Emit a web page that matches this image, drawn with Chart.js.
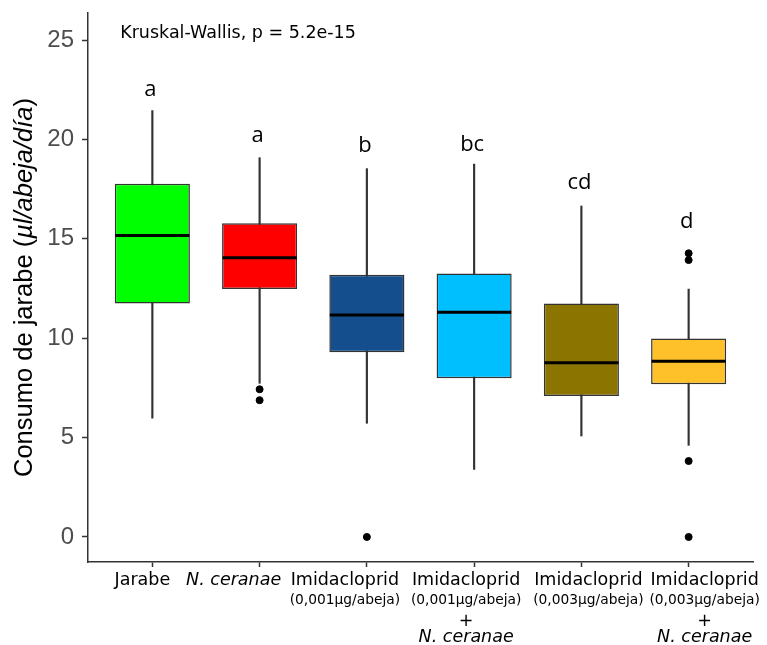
<!DOCTYPE html>
<html><head><meta charset="utf-8">
<script src="https://cdn.jsdelivr.net/npm/chart.js@4"></script>
<style>html,body{margin:0;padding:0;background:#fff}#wrap{width:767px;height:645px;position:relative}</style>
</head><body><div id="wrap"><canvas id="c"></canvas></div>
<script>
// ---- data ----
const categories = ['Jarabe', 'N. ceranae', 'Imidacloprid (0,001µg/abeja)', 'Imidacloprid (0,001µg/abeja) + N. ceranae', 'Imidacloprid (0,003µg/abeja)', 'Imidacloprid (0,003µg/abeja) + N. ceranae'];
const xLabelLines = [
  ['Jarabe'],
  ['N. ceranae'],
  ['Imidacloprid', '(0,001µg/abeja)'],
  ['Imidacloprid', '(0,001µg/abeja)', '+', 'N. ceranae'],
  ['Imidacloprid', '(0,003µg/abeja)'],
  ['Imidacloprid', '(0,003µg/abeja)', '+', 'N. ceranae']
];
const whiskerLow  = [5.97, 7.73, 5.72, 3.40, 5.08, 4.61];
const q1          = [11.75, 12.47, 9.29, 7.98, 7.09, 7.68];
const median      = [15.16, 14.05, 11.17, 11.30, 8.77, 8.84];
const q3          = [17.77, 15.78, 13.19, 13.26, 11.74, 9.98];
const whiskerHigh = [21.45, 19.08, 18.53, 18.76, 16.65, 12.47];
const outlierCat  = [1, 1, 2, 5, 5, 5, 5];
const outlierVal  = [7.43, 6.88, 0, 14.27, 13.93, 3.82, 0];
const letters     = ['a', 'a', 'b', 'bc', 'cd', 'd'];
const letterY     = [22.5, 20.2, 19.7, 19.75, 17.8, 15.85];
const yTicks      = [0, 5, 10, 15, 20, 25];
const testLabel   = 'Kruskal-Wallis, p = 5.2e-15';
const boxColors   = ['#00FF00', '#FF0000', '#144E8C', '#00BFFF', '#8B7500', '#FFC12A'];

const idx = categories.map((_, i) => i);

// layout-only constants for the hand-placed category captions (pixels)
const captionShift = [-10, -26, -22, -8, 7, 16];
const captionLineY = [580, 600, 621, 637];

const overlay = {
  id: 'overlay',
  afterDatasetsDraw(chart) {
    const ctx = chart.ctx, ys = chart.scales.y;
    const meta = chart.getDatasetMeta(1);
    ctx.save();
    ctx.strokeStyle = '#000';
    ctx.lineWidth = 3;
    meta.data.forEach((bar, i) => {
      const hw = bar.width / 2 - 0.5;
      const y = ys.getPixelForValue(median[i]);
      ctx.beginPath();
      ctx.moveTo(bar.x - hw, y);
      ctx.lineTo(bar.x + hw, y);
      ctx.stroke();
    });
    ctx.restore();
  },
  afterDraw(chart) {
    const ctx = chart.ctx, xs = chart.scales.x, ys = chart.scales.y, ca = chart.chartArea;
    ctx.save();
    ctx.fillStyle = '#000';
    ctx.textAlign = 'center';
    ctx.textBaseline = 'middle';
    ctx.font = '22px "Open Sans", sans-serif';
    letters.forEach((l, i) => ctx.fillText(l, xs.getPixelForValue(i) - 2, ys.getPixelForValue(letterY[i])));
    ctx.textAlign = 'left';
    ctx.font = '17.5px "DejaVu Sans", sans-serif';
    ctx.fillText(testLabel, xs.getPixelForValue(-0.3), ys.getPixelForValue(25.35));
    xLabelLines.forEach((lines, i) => {
      const x = xs.getPixelForValue(i) + captionShift[i];
      lines.forEach((t, j) => {
        ctx.textAlign = 'center';
        let font;
        if (t === 'N. ceranae') font = 'italic 17.5px "DejaVu Sans", sans-serif';
        else if (t.startsWith('(')) font = '13.8px "DejaVu Sans", sans-serif';
        else font = '17.5px "DejaVu Sans", sans-serif';
        ctx.font = font;
        ctx.fillText(t, x, ca.bottom + (captionLineY[j] - 562));
      });
    });
    ctx.translate(25, (ca.top + ca.bottom) / 2);
    ctx.rotate(-Math.PI / 2);
    const parts = [['Consumo de jarabe (', '25.5px "Liberation Sans", Arial, sans-serif'],
                   ['µl/abeja/día', 'italic 25.5px "Liberation Sans", Arial, sans-serif'],
                   [')', '25.5px "Liberation Sans", Arial, sans-serif']];
    let total = 0;
    parts.forEach(p => { ctx.font = p[1]; total += ctx.measureText(p[0]).width; });
    let x0 = -total / 2;
    ctx.textAlign = 'left';
    parts.forEach(p => { ctx.font = p[1]; ctx.fillText(p[0], x0, 0); x0 += ctx.measureText(p[0]).width; });
    ctx.restore();
  }
};

new Chart(document.getElementById('c'), {
  type: 'bar',
  data: {
    datasets: [
      {
        label: 'whiskers',
        data: idx.map(i => ({ x: i, y: [whiskerLow[i], whiskerHigh[i]] })),
        backgroundColor: '#333333',
        barThickness: 1.5,
        grouped: false,
        order: 3
      },
      {
        label: 'boxes',
        data: idx.map(i => ({ x: i, y: [q1[i], q3[i]] })),
        backgroundColor: boxColors,
        borderColor: '#333333',
        borderWidth: 1.5,
        borderSkipped: false,
        barPercentage: 0.7,
        categoryPercentage: 1,
        grouped: false,
        order: 2
      },
      {
        type: 'scatter',
        label: 'outliers',
        data: outlierCat.map((c, k) => ({ x: c, y: outlierVal[k] })),
        backgroundColor: '#000',
        borderColor: '#000',
        pointRadius: 3.5,
        order: 1
      }
    ]
  },
  options: {
    responsive: true,
    maintainAspectRatio: false,
    animation: false,
    layout: { padding: { top: 13, right: 14, left: 0, bottom: 0 } },
    plugins: { legend: { display: false }, tooltip: { enabled: false } },
    scales: {
      x: {
        type: 'linear',
        offset: false,
        min: -0.6, max: 5.6,
        afterBuildTicks: s => { s.ticks = idx.map(v => ({ value: v })); },
        afterFit: s => { s.height = 83; s.paddingLeft = 0; s.paddingRight = 0; },
        ticks: { display: false },
        grid: { offset: false, drawOnChartArea: false, drawTicks: true, tickLength: 5, tickColor: '#333', tickWidth: 1.5 },
        border: { display: true, color: '#333', width: 1.5 }
      },
      y: {
        min: -1.26, max: 26.36,
        afterBuildTicks: s => { s.ticks = yTicks.map(v => ({ value: v })); },
        afterFit: s => { s.width = 88; s.paddingTop = 0; s.paddingBottom = 0; },
        ticks: { color: '#4D4D4D', font: { family: '"Liberation Sans", Arial, sans-serif', size: 24 }, padding: 8 },
        grid: { drawOnChartArea: false, drawTicks: true, tickLength: 6, tickColor: '#333', tickWidth: 1.5 },
        border: { display: true, color: '#333', width: 1.5 }
      }
    }
  },
  plugins: [overlay]
});
</script></body></html>
